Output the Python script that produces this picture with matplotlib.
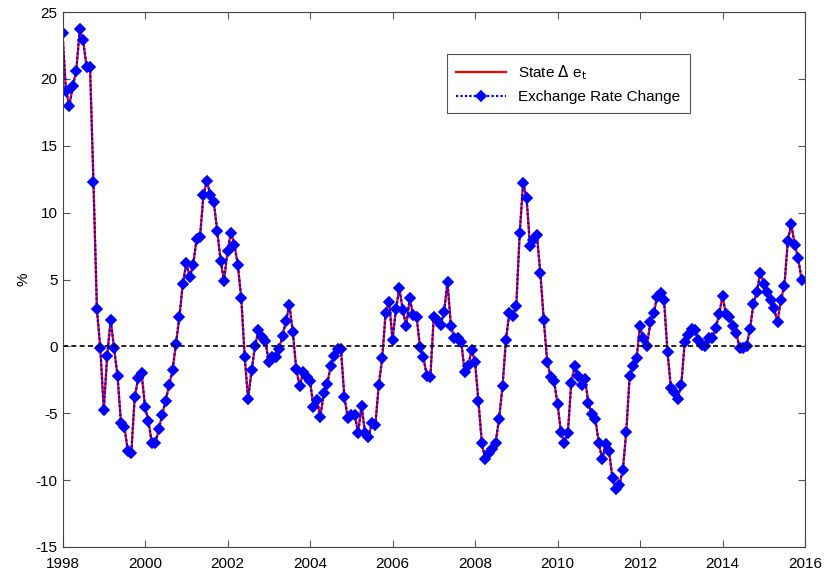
import numpy as np
import matplotlib
matplotlib.use("Agg")
import matplotlib.pyplot as plt

plt.rcParams['font.family'] = ['Liberation Sans', 'DejaVu Sans']
plt.rcParams['axes.unicode_minus'] = False

# monthly exchange rate change (%), Jan 1998 .. Dec 2015
start_year = 1998
rate_change = [
    23.4, 19.1, 18.0, 19.5, 20.6, 23.7, 22.9, 20.9, 20.9, 12.3, 2.8, -0.15,
    -4.75, -0.7, 2.0, -0.15, -2.2, -5.7, -6.0, -7.8, -8.0, -3.8, -2.4, -2.0,
    -4.5, -5.6, -7.25, -7.25, -6.2, -5.1, -4.05, -2.9, -1.8, 0.2, 2.2, 4.7,
    6.2, 5.2, 6.1, 8.0, 8.2, 11.3, 12.4, 11.3, 10.8, 8.65, 6.4, 4.9,
    7.15, 8.5, 7.6, 6.1, 3.6, -0.8, -3.95, -1.8, 0.0, 1.2, 0.7, 0.4,
    -1.15, -0.8, -0.8, -0.2, 0.8, 1.9, 3.1, 1.05, -1.7, -3.0, -1.9, -2.3,
    -2.6, -4.5, -4.0, -5.25, -3.5, -2.8, -1.5, -0.7, -0.2, -0.2, -3.8, -5.35,
    -5.1, -5.1, -6.45, -4.45, -6.5, -6.8, -5.75, -5.9, -2.9, -0.9, 2.5, 3.35,
    0.5, 2.8, 4.35, 2.7, 1.5, 3.6, 2.35, 2.2, -0.05, -0.8, -2.25, -2.3,
    2.2, 2.0, 1.6, 2.6, 4.8, 1.5, 0.6, 0.6, 0.35, -1.9, -1.5, -0.25,
    -1.15, -4.1, -7.25, -8.45, -7.95, -7.7, -7.2, -5.4, -3.0, 0.5, 2.5, 2.3,
    3.0, 8.45, 12.25, 11.1, 7.5, 7.95, 8.35, 5.5, 2.0, -1.15, -2.3, -2.6,
    -4.3, -6.4, -7.2, -6.5, -2.75, -1.5, -2.2, -2.9, -2.45, -4.25, -5.05, -5.4,
    -7.2, -8.45, -7.3, -7.85, -9.85, -10.7, -10.35, -9.25, -6.4, -2.2, -1.5, -0.9,
    1.5, 0.6, 0.0, 1.8, 2.5, 3.7, 4.0, 3.45, -0.45, -3.1, -3.4, -3.9,
    -2.9, 0.3, 0.85, 1.3, 1.2, 0.5, 0.1, 0.05, 0.6, 0.6, 1.35, 2.4,
    3.75, 2.4, 2.2, 1.5, 1.0, -0.15, -0.15, 0.05, 1.3, 3.2, 4.1, 5.5,
    4.7, 4.1, 3.5, 2.85, 1.8, 3.5, 4.5, 7.9, 9.15, 7.6, 6.6, 5.0,
]
# the filtered state tracks the observed series
state_de = list(rate_change)

x_ticks = list(range(1998, 2017, 2))
y_ticks = list(range(-15, 26, 5))

t = start_year + np.arange(len(rate_change)) / 12.0

fig = plt.figure(figsize=(8.27, 5.73), dpi=100)
ax = fig.add_axes([0.0756, 0.0454, 0.8978, 0.9336])

ax.plot(t, state_de, color='red', lw=1.6, label='State $\\Delta$ e$_\\mathrm{t}$')
ax.plot(t, rate_change, color='blue', lw=1.6, ls=(0, (1, 1)), marker='D', ms=5,
        mew=1.2, mfc='blue', mec='blue', label='Exchange Rate Change')
ax.axhline(0, color='black', lw=1.2, ls=(0, (3, 2)))

ax.set_xlim(1998, 2016)
ax.set_ylim(-15, 25)
ax.set_xticks(x_ticks)
ax.set_yticks(y_ticks)
ax.tick_params(direction='in', top=True, right=True, labelsize=11, length=5,
               color='#555555')
ax.tick_params(axis='x', pad=7)
ax.set_ylabel('%', fontsize=11)
for s in ax.spines.values():
    s.set_color('#444444')

leg = ax.legend(loc='upper right', bbox_to_anchor=(0.855, 0.935), fontsize=11,
                fancybox=False, edgecolor='#555555', framealpha=1,
                handlelength=3.3, borderpad=0.6, labelspacing=0.5)
leg.get_frame().set_linewidth(0.8)

fig.savefig('out.png', dpi=100)
